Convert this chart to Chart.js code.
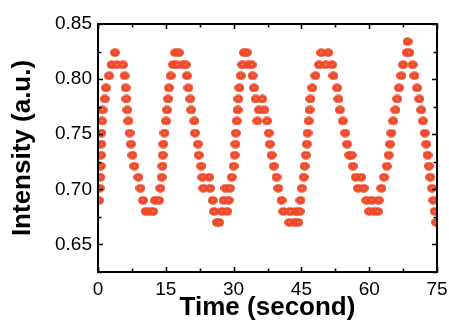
<!DOCTYPE html>
<html>
<head>
<meta charset="utf-8">
<script src="https://cdn.jsdelivr.net/npm/chart.js@4"></script>
<style>
  body { margin: 0; background: #fff; }
  canvas { display: block; }
</style>
</head>
<body>
<canvas id="chart" width="449" height="322"></canvas>
<script>
// values
const timeS = [
  0.20, 0.37, 0.52, 0.59, 0.66, 0.70, 0.76, 0.88, 1.03, 1.48, 1.77, 2.43, 3.00, 3.76, 4.20, 5.50,
  5.90, 6.12, 6.27, 6.49, 6.71, 7.00, 7.30, 7.60, 8.04, 8.92, 9.37, 9.96, 10.55, 11.35, 12.17,
  12.60, 13.50, 13.80, 14.10, 14.25, 14.35, 14.45, 14.70, 15.04, 15.27, 15.50, 15.70, 16.08,
  16.60, 17.10, 17.40, 17.90, 18.70, 19.40, 19.70, 20.00, 20.40, 20.60, 21.30, 21.45, 22.10,
  22.30, 22.85, 23.10, 23.30, 24.60, 24.80, 25.40, 25.70, 26.30, 26.80, 27.40, 27.80, 28.20,
  28.60, 28.90, 29.20, 29.60, 30.00, 30.25, 30.40, 30.50, 30.70, 30.90, 31.05, 31.30, 31.60,
  31.90, 32.30, 32.90, 33.20, 34.00, 34.20, 34.50, 34.90, 35.25, 35.60, 36.35, 36.80, 37.40,
  37.80, 38.05, 38.40, 38.90, 39.50, 39.90, 40.60, 41.00, 42.30, 42.50, 43.50, 43.80, 44.30,
  44.60, 44.80, 45.10, 45.50, 45.70, 46.00, 46.20, 46.35, 46.60, 46.80, 47.00, 47.40, 48.10,
  48.90, 49.40, 50.40, 50.90, 51.80, 52.10, 52.90, 53.20, 53.50, 54.20, 54.70, 55.10, 55.60,
  56.10, 56.40, 57.00, 57.50, 58.20, 58.80, 59.40, 60.00, 60.60, 61.00, 61.90, 62.10, 62.70,
  63.30, 63.90, 64.30, 64.60, 64.90, 65.30, 65.80, 66.20, 66.60, 67.10, 67.50, 68.30, 68.50,
  68.90, 69.60, 70.00, 70.60, 71.10, 71.50, 71.90, 72.30, 72.60, 72.90, 73.20, 73.50, 73.90,
  74.20, 74.50, 74.80
];
const intensity = [
  0.690, 0.701, 0.711, 0.721, 0.731, 0.741, 0.751, 0.762, 0.772, 0.782, 0.792, 0.803, 0.813, 0.824, 0.813, 0.813,
  0.803, 0.792, 0.782, 0.772, 0.762, 0.751, 0.741, 0.731, 0.721, 0.711, 0.701, 0.690, 0.680, 0.680, 0.680,
  0.690, 0.690, 0.701, 0.711, 0.721, 0.731, 0.741, 0.751, 0.762, 0.772, 0.782, 0.792, 0.803,
  0.813, 0.824, 0.813, 0.824, 0.813, 0.813, 0.803, 0.792, 0.782, 0.772, 0.762, 0.751, 0.741,
  0.731, 0.721, 0.711, 0.701, 0.711, 0.701, 0.690, 0.680, 0.670, 0.670, 0.680, 0.690, 0.701,
  0.680, 0.690, 0.701, 0.711, 0.721, 0.731, 0.741, 0.751, 0.762, 0.772, 0.782, 0.792, 0.803,
  0.813, 0.824, 0.824, 0.813, 0.813, 0.803, 0.792, 0.782, 0.762, 0.772, 0.782, 0.772, 0.762,
  0.751, 0.741, 0.731, 0.721, 0.711, 0.701, 0.690, 0.680, 0.670, 0.680, 0.670, 0.680, 0.670,
  0.680, 0.690, 0.701, 0.711, 0.721, 0.731, 0.741, 0.751, 0.762, 0.772, 0.782, 0.792, 0.803,
  0.813, 0.824, 0.813, 0.824, 0.813, 0.803, 0.792, 0.782, 0.772, 0.762, 0.751, 0.741, 0.731,
  0.731, 0.721, 0.711, 0.701, 0.711, 0.701, 0.690, 0.680, 0.690, 0.680, 0.680, 0.690, 0.701,
  0.711, 0.721, 0.731, 0.741, 0.751, 0.762, 0.772, 0.782, 0.792, 0.803, 0.813, 0.824, 0.834,
  0.824, 0.813, 0.803, 0.792, 0.782, 0.772, 0.762, 0.751, 0.741, 0.731, 0.721, 0.711, 0.701,
  0.690, 0.680, 0.670
];
const xTickLabels = [0, 15, 30, 45, 60, 75];
const yTickLabels = [0.65, 0.70, 0.75, 0.80, 0.85];

const FONT = "'Liberation Sans', Arial, sans-serif";

// orange ball with a small white shine
function makeDot() {
  const c = document.createElement('canvas');
  c.width = 10; c.height = 9;
  const g = c.getContext('2d');
  g.fillStyle = '#ef4a2a';
  g.beginPath();
  g.ellipse(5, 4.5, 5, 4.2, 0, 0, Math.PI * 2);
  g.fill();
  g.fillStyle = 'rgba(255,215,205,0.85)';
  g.beginPath();
  g.arc(5, 4.3, 0.7, 0, Math.PI * 2);
  g.fill();
  return c;
}

function isLabel(list, v) {
  return list.some(l => Math.abs(l - v) < 1e-6);
}

// box frame with inward ticks on all four sides
const frame = {
  id: 'frame',
  afterDatasetsDraw(chart) {
    const { ctx, chartArea: a, scales: { x, y } } = chart;
    ctx.save();
    ctx.strokeStyle = '#000';
    ctx.lineWidth = 1.6;
    ctx.beginPath();
    x.ticks.forEach(t => {
      const px = Math.round(x.getPixelForValue(t.value)) + 0.5;
      const len = isLabel(xTickLabels, t.value) ? 5 : 3.5;
      ctx.moveTo(px, a.bottom); ctx.lineTo(px, a.bottom - len);
      ctx.moveTo(px, a.top); ctx.lineTo(px, a.top + len);
    });
    y.ticks.forEach(t => {
      const py = Math.round(y.getPixelForValue(t.value)) + 0.5;
      const len = isLabel(yTickLabels, t.value) ? 5 : 3.5;
      ctx.moveTo(a.left, py); ctx.lineTo(a.left + len, py);
      ctx.moveTo(a.right, py); ctx.lineTo(a.right - len, py);
    });
    ctx.stroke();
    ctx.lineWidth = 2;
    ctx.strokeRect(a.left, a.top, a.right - a.left, a.bottom - a.top);
    ctx.restore();
  }
};

new Chart(document.getElementById('chart'), {
  type: 'scatter',
  data: {
    datasets: [{
      data: timeS.map((t, i) => ({ x: t, y: intensity[i] })),
      pointStyle: makeDot(),
      clip: 0
    }]
  },
  options: {
    responsive: false,
    animation: false,
    layout: { padding: { top: 24, right: 12, left: 0, bottom: 0 } },
    plugins: { legend: { display: false }, tooltip: { enabled: false } },
    scales: {
      x: {
        type: 'linear', min: 0, max: 75,
        afterFit: s => { s.height = 50; s.paddingLeft = 0; s.paddingRight = 0; },
        grid: { display: false, drawTicks: false },
        border: { display: false },
        ticks: {
          stepSize: 7.5, autoSkip: false, maxRotation: 0, padding: 6,
          color: '#000', font: { family: FONT, size: 19 },
          callback: v => isLabel(xTickLabels, v) ? String(Math.round(v)) : ''
        },
        title: {
          display: true, text: 'Time (second)', color: '#000',
          font: { family: FONT, size: 26, weight: 'bold', lineHeight: 1 },
          padding: { top: 0, bottom: 1 }
        }
      },
      y: {
        type: 'linear', min: 0.625, max: 0.85,
        afterFit: s => { s.width = 98; s.paddingTop = 0; s.paddingBottom = 0; },
        grid: { display: false, drawTicks: false },
        border: { display: false },
        ticks: {
          stepSize: 0.025, autoSkip: false, padding: 6,
          color: '#000', font: { family: FONT, size: 19 },
          callback: v => isLabel(yTickLabels, v) ? v.toFixed(2) : ''
        },
        title: {
          display: true, text: 'Intensity (a.u.)', color: '#000',
          font: { family: FONT, size: 26, weight: 'bold', lineHeight: 1 },
          padding: { top: 10, bottom: 0 }
        }
      }
    }
  },
  plugins: [frame]
});
</script>
</body>
</html>
